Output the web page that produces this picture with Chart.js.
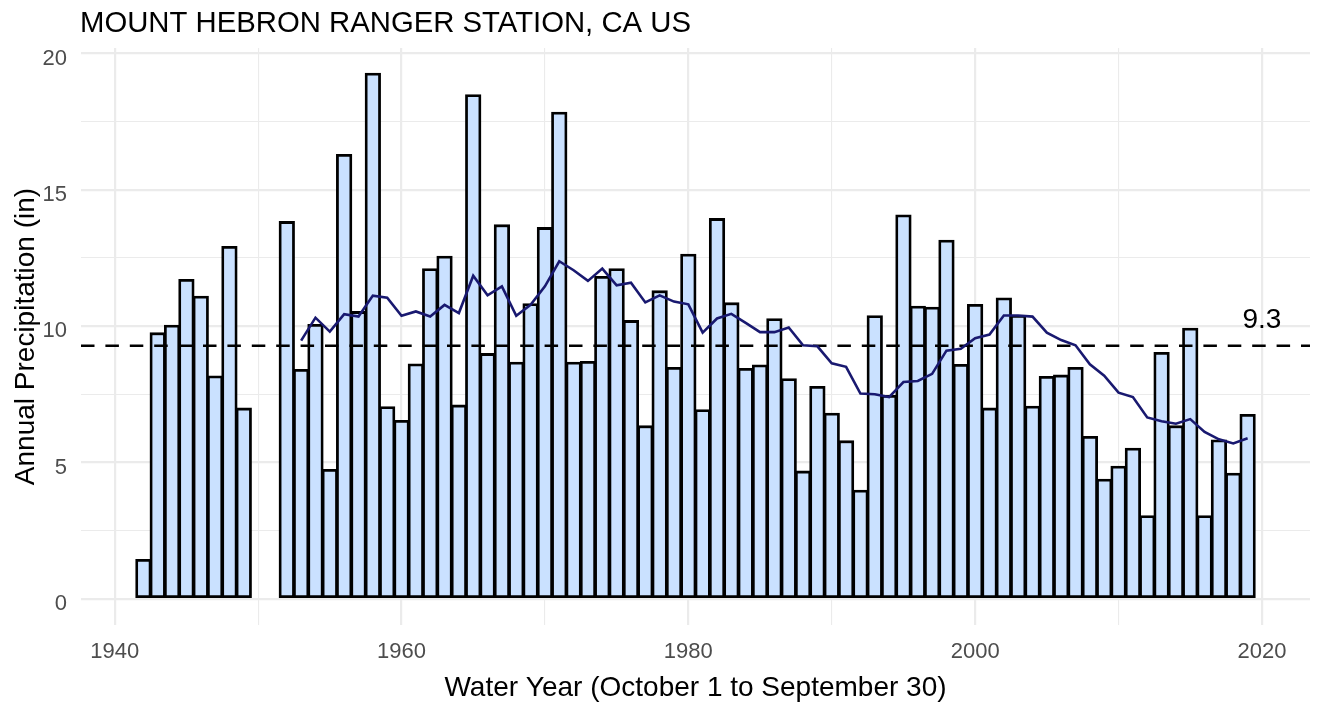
<!DOCTYPE html>
<html>
<head>
<meta charset="utf-8">
<script src="https://cdn.jsdelivr.net/npm/chart.js@4"></script>
<style>
  html, body { margin: 0; padding: 0; background: #fff; }
  canvas { display: block; }
</style>
</head>
<body>
<canvas id="precipChart" width="1321" height="702"></canvas>
<script>
// Annual precipitation, Mount Hebron Ranger Station
const years = [1942, 1943, 1944, 1945, 1946, 1947, 1948, 1949,
  1952, 1953, 1954, 1955, 1956, 1957, 1958, 1959, 1960, 1961,
  1962, 1963, 1964, 1965, 1966, 1967, 1968, 1969, 1970, 1971,
  1972, 1973, 1974, 1975, 1976, 1977, 1978, 1979, 1980, 1981,
  1982, 1983, 1984, 1985, 1986, 1987, 1988, 1989, 1990, 1991,
  1992, 1993, 1994, 1995, 1996, 1997, 1998, 1999, 2000, 2001,
  2002, 2003, 2004, 2005, 2006, 2007, 2008, 2009, 2010, 2011,
  2012, 2013, 2014, 2015, 2016, 2017, 2018, 2019];
const precip = [1.45, 9.76, 10.04, 11.72, 11.10, 8.18, 12.93, 7.00,
  13.84, 8.42, 10.07, 4.75, 16.30, 10.54, 19.28, 7.05, 6.55, 8.62,
  12.11, 12.57, 7.11, 18.49, 9.00, 13.72, 8.68, 10.83, 13.62, 17.85,
  8.68, 8.71, 11.83, 12.11, 10.21, 6.35, 11.30, 8.49, 12.64, 6.94,
  13.95, 10.86, 8.45, 8.58, 10.28, 8.08, 4.69, 7.79, 6.81, 5.80,
  3.99, 10.39, 7.46, 14.08, 10.74, 10.70, 13.16, 8.60, 10.80, 7.00,
  11.04, 10.40, 7.07, 8.16, 8.21, 8.49, 5.96, 4.39, 4.87, 5.53,
  3.05, 9.04, 6.35, 9.93, 3.05, 5.83, 4.61, 6.77];

// rolling mean line, 1953-2019
const maYears = [];
for (let y = 1953; y <= 2019; y++) maYears.push(y);
const maValues = [9.47, 10.31, 9.80, 10.44, 10.35, 11.12, 11.04, 10.38, 10.54,
  10.35, 10.78, 10.48, 11.85, 11.13, 11.46, 10.38, 10.78, 11.46, 12.38,
  12.05, 11.66, 12.11, 11.50, 11.59, 10.87, 11.13, 10.90, 10.80, 9.76,
  10.28, 10.45, 10.12, 9.78, 9.78, 9.95, 9.30, 9.26, 8.64, 8.51,
  7.53, 7.50, 7.40, 7.95, 7.99, 8.25, 9.10, 9.17, 9.56, 9.69,
  10.39, 10.39, 10.35, 9.76, 9.49, 9.30, 8.60, 8.18, 7.56, 7.40,
  6.65, 6.51, 6.42, 6.59, 6.12, 5.85, 5.70, 5.89];

const meanValue = 9.28;
const xTicks = [1940, 1950, 1960, 1970, 1980, 1990, 2000, 2010, 2020];
const yTicks = [0, 2.5, 5, 7.5, 10, 12.5, 15, 17.5, 20];
const xLimits = [1937.65, 2023.35];
const yLimits = [-0.96, 20.2];
const titleText = 'MOUNT HEBRON RANGER STATION, CA US';

const FONT = '"Liberation Sans", Arial, Helvetica, sans-serif';

// title and the mean label, drawn on top
const textPlugin = {
  id: 'textPlugin',
  afterDraw(chart) {
    const c = chart.ctx;
    const xs = chart.scales.x, ys = chart.scales.y;
    c.save();
    c.fillStyle = '#000';
    c.font = '29.3px ' + FONT;
    c.textAlign = 'left';
    c.textBaseline = 'alphabetic';
    c.fillText(titleText, chart.chartArea.left - 1, 31.5);

    c.font = '28px ' + FONT;
    c.textAlign = 'center';
    c.textBaseline = 'middle';
    c.fillText(meanValue.toFixed(1), xs.getPixelForValue(2020), ys.getPixelForValue(meanValue * 1.1));
    c.restore();
  }
};

const ctx = document.getElementById('precipChart').getContext('2d');
const precipChart = new Chart(ctx, {
  type: 'bar',
  data: {
    datasets: [
      {
        type: 'line',
        data: maYears.map((y, i) => ({ x: y, y: maValues[i] })),
        borderColor: '#191970',
        borderWidth: 2.6,
        pointRadius: 0,
        tension: 0,
        order: 1
      },
      {
        type: 'line',
        data: xLimits.map(x => ({ x: x, y: meanValue })),
        borderColor: '#000',
        borderWidth: 2.4,
        borderDash: [13.5, 10.9],
        pointRadius: 0,
        order: 2
      },
      {
        type: 'bar',
        data: years.map((y, i) => ({ x: y, y: precip[i] })),
        backgroundColor: '#CAE1FF',
        borderColor: '#000',
        borderWidth: 2.8,
        borderSkipped: false,
        barThickness: 15.6,
        order: 3
      }
    ]
  },
  options: {
    responsive: false,
    animation: false,
    layout: { padding: { top: 48, right: 11, left: 0, bottom: 0 } },
    plugins: {
      legend: { display: false },
      tooltip: { enabled: false },
      title: { display: false }
    },
    scales: {
      x: {
        type: 'linear',
        min: xLimits[0],
        max: xLimits[1],
        offset: false,
        afterBuildTicks: s => { s.ticks = xTicks.map(v => ({ value: v })); },
        afterFit: s => { s.height = 77; },
        border: { display: false },
        grid: {
          offset: false,
          drawTicks: false,
          color: '#EBEBEB',
          lineWidth: c => (c.tick && c.tick.value % 20 === 0 ? 2.2 : 1.1)
        },
        ticks: {
          padding: 14,
          color: '#4D4D4D',
          font: { family: FONT, size: 22 },
          maxRotation: 0,
          autoSkip: false,
          callback: v => (v % 20 === 0 ? String(v) : '')
        },
        title: {
          display: true,
          text: 'Water Year (October 1 to September 30)',
          color: '#000',
          font: { family: FONT, size: 28, lineHeight: 1 },
          padding: { top: 0, bottom: 0 }
        }
      },
      y: {
        min: yLimits[0],
        max: yLimits[1],
        afterBuildTicks: s => { s.ticks = yTicks.map(v => ({ value: v })); },
        afterFit: s => { s.width = 81; },
        border: { display: false },
        grid: {
          drawTicks: false,
          color: '#EBEBEB',
          lineWidth: c => (c.tick && c.tick.value % 5 === 0 ? 2.2 : 1.1)
        },
        ticks: {
          padding: 14,
          labelOffset: 5,
          color: '#4D4D4D',
          font: { family: FONT, size: 22 },
          callback: v => (v % 5 === 0 ? String(v) : '')
        },
        title: {
          display: true,
          text: 'Annual Precipitation (in)',
          color: '#000',
          font: { family: FONT, size: 28, lineHeight: 1 },
          padding: { top: 12, bottom: 0 }
        }
      }
    }
  },
  plugins: [textPlugin]
});
</script>
</body>
</html>
